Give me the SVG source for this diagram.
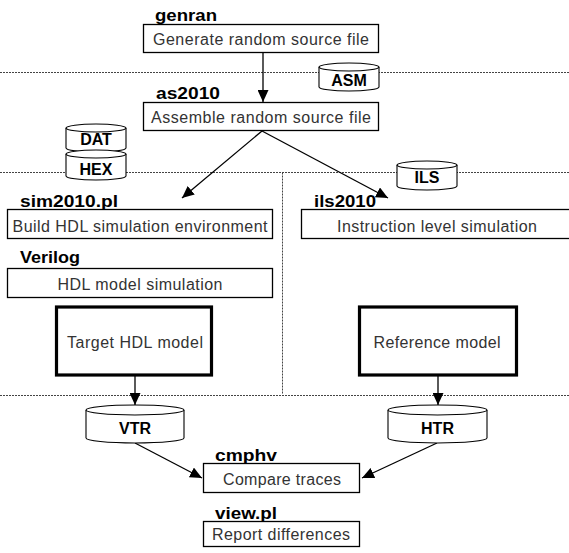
<svg xmlns="http://www.w3.org/2000/svg" width="569" height="553" viewBox="0 0 569 553">
<style>
.bg{fill:#ffffff}
.box{fill:#ffffff;stroke:#000;stroke-width:1.3}
.thick{fill:#ffffff;stroke:#000;stroke-width:3.2}
.t{font-family:"Liberation Sans",Arial,sans-serif;font-size:16px;fill:#333;text-anchor:middle}
.lbl{font-family:"Liberation Sans",Arial,sans-serif;font-size:17px;font-weight:bold;fill:#000}
.cyl{fill:#ffffff;stroke:#000;stroke-width:1.1}
.ct{font-family:"Liberation Sans",Arial,sans-serif;font-size:16px;font-weight:bold;fill:#000;text-anchor:middle}
.dot{stroke:#444;stroke-width:1;stroke-dasharray:2 1;fill:none}
.edge{stroke:#000;stroke-width:1.3;fill:none;marker-end:url(#ah)}
</style>
<defs>
<marker id="ah" markerUnits="userSpaceOnUse" markerWidth="12" markerHeight="11" refX="12" refY="5.5" orient="auto">
<path d="M0,0 L12,5.5 L0,11 z" fill="#000"/>
</marker>
</defs>
<rect class="bg" x="0" y="0" width="569" height="553"/>
<g id="separators">
<line class="dot" x1="0" y1="72.5" x2="569" y2="72.5"/>
<line class="dot" x1="0" y1="172.5" x2="569" y2="172.5"/>
<line class="dot" x1="282.5" y1="172.5" x2="282.5" y2="394"/>
<line class="dot" x1="0" y1="395.5" x2="569" y2="395.5"/>
</g>
<g id="connectors">
<line class="edge" x1="263" y1="53" x2="263" y2="102"/>
<line class="edge" x1="262" y1="131" x2="182" y2="198"/>
<line class="edge" x1="262" y1="131" x2="388" y2="198"/>
<line class="edge" x1="135" y1="376" x2="135" y2="405"/>
<line class="edge" x1="438" y1="376" x2="438" y2="405"/>
<line class="edge" x1="135" y1="443" x2="202" y2="478"/>
<line class="edge" x1="437" y1="443" x2="362" y2="478"/>
</g>
<g id="genran">
<text class="lbl" x="155" y="21" textLength="62" lengthAdjust="spacingAndGlyphs">genran</text>
<rect class="box" x="143.5" y="24.5" width="235" height="28"/>
<text class="t" x="261" y="45" textLength="216" lengthAdjust="spacing">Generate random source file</text>
</g>
<g id="asm">
<path class="cyl" d="M319,67 L319,87 A30,4 0 0 0 379,87 L379,67"/>
<ellipse class="cyl" cx="349" cy="67" rx="30" ry="4"/>
<text class="ct" x="349" y="86">ASM</text>
</g>
<g id="as2010">
<text class="lbl" x="156" y="99" textLength="64" lengthAdjust="spacingAndGlyphs">as2010</text>
<rect class="box" x="143.5" y="102.5" width="235" height="28"/>
<text class="t" x="261" y="123" textLength="220" lengthAdjust="spacing">Assemble random source file</text>
</g>
<g id="dat">
<path class="cyl" d="M66,128 L66,148 A30,4 0 0 0 126,148 L126,128"/>
<ellipse class="cyl" cx="96" cy="128" rx="30" ry="4"/>
<text class="ct" x="96" y="145">DAT</text>
</g>
<g id="hex">
<path class="cyl" d="M66,154 L66,176 A30,4 0 0 0 126,176 L126,154"/>
<ellipse class="cyl" cx="96" cy="154" rx="30" ry="4"/>
<text class="ct" x="96" y="175">HEX</text>
</g>
<g id="ils">
<path class="cyl" d="M397,165 L397,186 A30,4 0 0 0 457,186 L457,165"/>
<ellipse class="cyl" cx="427" cy="165" rx="30" ry="4"/>
<text class="ct" x="427" y="183">ILS</text>
</g>
<g id="sim2010">
<text class="lbl" x="20" y="207" textLength="98" lengthAdjust="spacingAndGlyphs">sim2010.pl</text>
<rect class="box" x="7.5" y="209.5" width="265" height="29"/>
<text class="t" x="140" y="232" textLength="255" lengthAdjust="spacing">Build HDL simulation environment</text>
</g>
<g id="ils2010">
<text class="lbl" x="314" y="207" textLength="62" lengthAdjust="spacingAndGlyphs">ils2010</text>
<rect class="box" x="301.5" y="209.5" width="272" height="29"/>
<text class="t" x="437" y="232" textLength="200" lengthAdjust="spacing">Instruction level simulation</text>
</g>
<g id="verilog">
<text class="lbl" x="20" y="263" textLength="60" lengthAdjust="spacingAndGlyphs">Verilog</text>
<rect class="box" x="7.5" y="268.5" width="265" height="29"/>
<text class="t" x="140" y="290" textLength="165" lengthAdjust="spacing">HDL model simulation</text>
</g>
<g id="target">
<rect class="thick" x="56.5" y="307" width="155" height="68"/>
<text class="t" x="135" y="348" textLength="136" lengthAdjust="spacing">Target HDL model</text>
</g>
<g id="reference">
<rect class="thick" x="359.5" y="307" width="157" height="68"/>
<text class="t" x="437" y="348" textLength="127" lengthAdjust="spacing">Reference model</text>
</g>
<g id="vtr">
<path class="cyl" d="M86,410 L86,438 A49,5 0 0 0 184,438 L184,410"/>
<ellipse class="cyl" cx="135" cy="410" rx="49" ry="5"/>
<text class="ct" x="135" y="434">VTR</text>
</g>
<g id="htr">
<path class="cyl" d="M388,410 L388,438 A49.5,5 0 0 0 487,438 L487,410"/>
<ellipse class="cyl" cx="437.5" cy="410" rx="49.5" ry="5"/>
<text class="ct" x="437.5" y="434">HTR</text>
</g>
<g id="cmphv">
<text class="lbl" x="215" y="461" textLength="62" lengthAdjust="spacingAndGlyphs">cmphv</text>
<rect class="box" x="203.5" y="463.5" width="156" height="29"/>
<text class="t" x="282" y="485" textLength="118" lengthAdjust="spacing">Compare traces</text>
</g>
<g id="viewpl">
<text class="lbl" x="215" y="519" textLength="62" lengthAdjust="spacingAndGlyphs">view.pl</text>
<rect class="box" x="203.5" y="521.5" width="156" height="25"/>
<text class="t" x="281" y="540" textLength="138" lengthAdjust="spacing">Report differences</text>
</g>
</svg>
